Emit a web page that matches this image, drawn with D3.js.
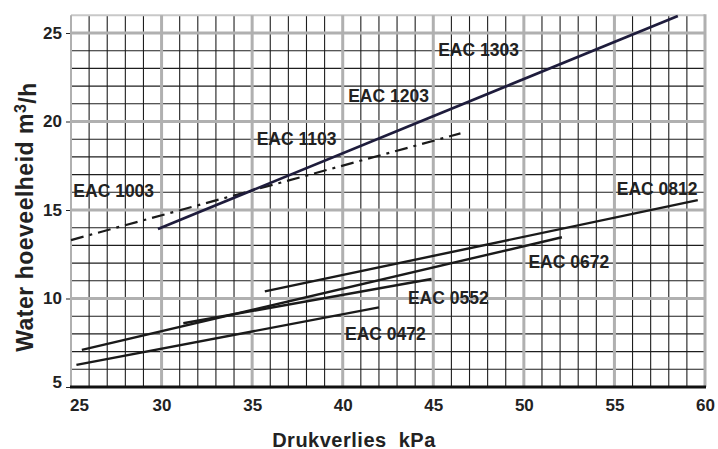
<!DOCTYPE html>
<html><head><meta charset="utf-8">
<script src="https://cdn.jsdelivr.net/npm/d3@7"></script>
<style>
html,body{margin:0;padding:0;background:#fff;}
svg{display:block;font-family:"Liberation Sans",Arial,Helvetica,sans-serif;font-weight:bold;}
</style></head>
<body>
<svg id="chart" width="718" height="449"></svg>
<script>
// ---- data ----
const seriesNames = ["EAC 0472","EAC 0552","EAC 0672","EAC 0812","EAC 1003","EAC 1103-1303"];
const xStart = [25.3, 31.2, 25.6, 35.7, 25.0, 29.8];
const yStart = [6.25, 8.6, 7.1, 10.4, 13.3, 13.93];
const xEnd   = [42.0, 44.9, 52.1, 59.6, 46.5, 58.5];
const yEnd   = [9.5, 11.1, 13.46, 15.56, 19.33, 25.96];

const labelTexts = ["EAC 0472","EAC 0552","EAC 0672","EAC 0812","EAC 1003","EAC 1103","EAC 1203","EAC 1303"];
const labelX = [40.13, 43.6, 50.25, 55.13, 25.13, 35.25, 40.3, 45.27];
const labelY = [7.66, 9.69, 11.74, 15.85, 15.72, 18.67, 21.1, 23.7];

const xTicks = [25,30,35,40,45,50,55,60];
const yTicks = [5,10,15,20,25];
const xTitle = "Drukverlies  kPa";
const yTitleMain = "Water hoeveelheid m";
const yTitleSup = "3";
const yTitleEnd = "/h";

// ---- layout ----
const svg = d3.select("#chart");
const L = 71, R = 705, T = 15.3, B = 387;
const x = d3.scaleLinear().domain([25,60]).range([L,R]);
const y = d3.scaleLinear().domain([5,26]).range([B,T]);

const g = svg.append("g");

// minor grid
const minorX = d3.range(26,60).filter(v => v % 5 !== 0);
const minorY = d3.range(6,26).filter(v => v % 5 !== 0);
g.selectAll(".mx").data(minorX).enter().append("line")
  .attr("x1", d=>x(d)).attr("x2", d=>x(d)).attr("y1", y(26)).attr("y2", y(5))
  .attr("stroke", "#1e1e1e").attr("stroke-width", 1.1);
g.selectAll(".my").data(minorY.concat([26])).enter().append("line")
  .attr("x1", L).attr("x2", R).attr("y1", d=>y(d)).attr("y2", d=>y(d))
  .attr("stroke", d => d===26 ? "#c8c8c8" : "#1e1e1e").attr("stroke-width", d => d===26 ? 2 : 1.1);

// major grid
g.selectAll(".Mx").data([30,35,40,45,50,55]).enter().append("line")
  .attr("x1", d=>x(d)).attr("x2", d=>x(d)).attr("y1", y(26)).attr("y2", y(5))
  .attr("stroke", "#b0b0b0").attr("stroke-width", 3);
g.selectAll(".My").data([10,15,20,25]).enter().append("line")
  .attr("x1", L).attr("x2", R).attr("y1", d=>y(d)).attr("y2", d=>y(d))
  .attr("stroke", "#b0b0b0").attr("stroke-width", 3);
// borders
g.append("line").attr("x1", x(25)).attr("x2", x(25)).attr("y1", y(26)).attr("y2", y(5))
  .attr("stroke", "#b0b0b0").attr("stroke-width", 2);
g.append("line").attr("x1", x(60)).attr("x2", x(60)).attr("y1", y(26)-1).attr("y2", y(5))
  .attr("stroke", "#b0b0b0").attr("stroke-width", 3);
g.append("line").attr("x1", x(25)-1).attr("x2", x(60)+1).attr("y1", y(5)).attr("y2", y(5))
  .attr("stroke", "#111").attr("stroke-width", 3);

// y ticks
const yAxis = d3.axisLeft(y).tickValues(yTicks).tickSize(4).tickPadding(4).tickFormat(d3.format("d"));
const ya = svg.append("g").attr("transform", `translate(${L-1},0)`).call(yAxis);
ya.select(".domain").remove();
ya.selectAll(".tick line").attr("stroke", "#222").attr("stroke-width", 1);
ya.selectAll(".tick text").attr("font-size", 17).attr("font-family", null).attr("fill", "#222")
  .attr("dy", d => d===5 ? "0.05em" : "0.32em");

// x ticks
const xAxis = d3.axisBottom(x).tickValues(xTicks).tickSize(0).tickPadding(12).tickFormat(d3.format("d"));
const xa = svg.append("g").attr("transform", `translate(0,${B})`).call(xAxis);
xa.select(".domain").remove();
xa.selectAll(".tick text").attr("font-size", 17).attr("font-family", null).attr("fill", "#222")
  .attr("dx", d => d===25 ? 8 : 0);

// lines
const lineGen = d3.line().x(d=>x(d[0])).y(d=>y(d[1]));
seriesNames.forEach((name, i) => {
  const pts = [[xStart[i], yStart[i]], [xEnd[i], yEnd[i]]];
  const p = svg.append("path").datum(pts).attr("d", lineGen).attr("fill", "none");
  if (name === "EAC 1003") {
    p.attr("stroke", "#1a1a1a").attr("stroke-width", 2.2).attr("stroke-dasharray", "13,6,3,6");
  } else if (name === "EAC 1103-1303") {
    p.attr("stroke", "#1e1c3c").attr("stroke-width", 2.7);
  } else {
    p.attr("stroke", "#1a1a1a").attr("stroke-width", 2.4);
  }
});

// labels
svg.selectAll(".lbl").data(labelTexts).enter().append("text")
  .attr("x", (d,i)=>x(labelX[i])).attr("y", (d,i)=>y(labelY[i]))
  .attr("font-size", 17.5).attr("fill", "#222").text(d=>d);

// axis titles
svg.append("text").attr("x", 354).attr("y", 446.5).attr("text-anchor", "middle")
  .attr("font-size", 20).attr("letter-spacing", 0.5).attr("fill", "#222").attr("xml:space", "preserve")
  .style("white-space", "pre").text(xTitle);

const yt = svg.append("text").attr("transform", "translate(33,217) rotate(-90)")
  .attr("text-anchor", "middle").attr("font-size", 23).attr("letter-spacing", 0.5).attr("fill", "#222");
yt.append("tspan").text(yTitleMain);
yt.append("tspan").attr("dy", "-0.45em").attr("font-size", 16).text(yTitleSup);
yt.append("tspan").attr("dy", "0.45em").text(yTitleEnd);
</script>
</body></html>
